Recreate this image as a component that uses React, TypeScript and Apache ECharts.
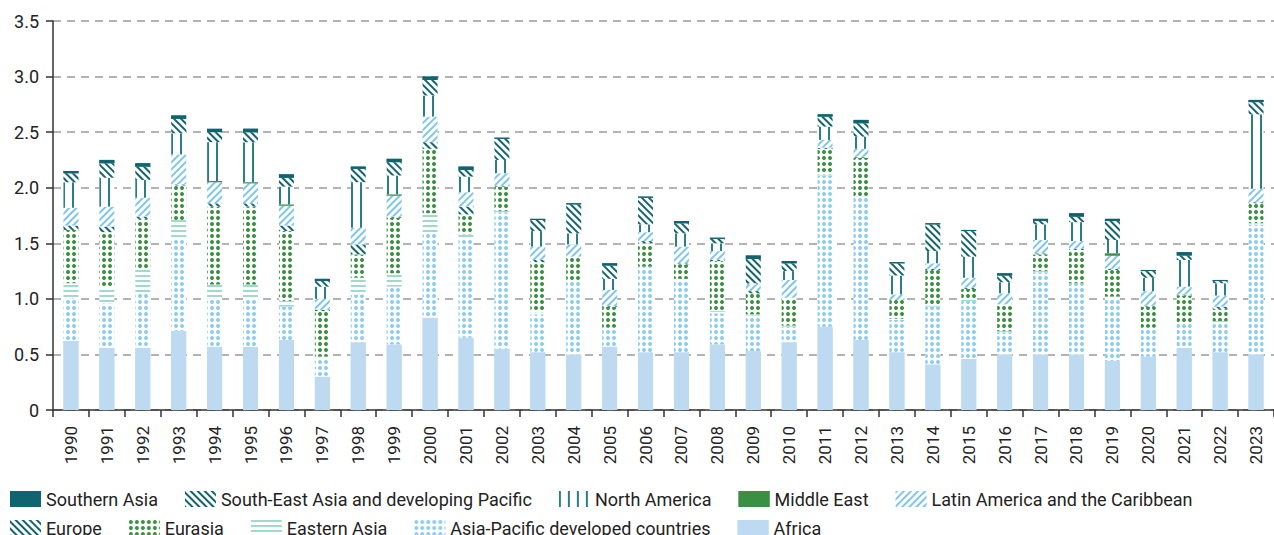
import { useEffect, useRef } from "react";
import * as echarts from "echarts";

const years = [
  "1990", "1991", "1992", "1993", "1994", "1995", "1996", "1997", "1998", "1999",
  "2000", "2001", "2002", "2003", "2004", "2005", "2006", "2007", "2008", "2009",
  "2010", "2011", "2012", "2013", "2014", "2015", "2016", "2017", "2018", "2019",
  "2020", "2021", "2022", "2023",
];

const africa = [0.62, 0.56, 0.56, 0.71, 0.57, 0.57, 0.63, 0.30, 0.61, 0.59, 0.83, 0.65, 0.55, 0.52, 0.50, 0.57, 0.52, 0.52, 0.59, 0.53, 0.61, 0.75, 0.63, 0.52, 0.41, 0.46, 0.50, 0.50, 0.50, 0.44, 0.48, 0.56, 0.52, 0.50];
const asiaPacificDeveloped = [0.38, 0.40, 0.49, 0.83, 0.43, 0.44, 0.30, 0.17, 0.43, 0.52, 0.77, 0.88, 1.23, 0.34, 0.67, 0.16, 0.77, 0.65, 0.28, 0.32, 0.14, 1.36, 1.28, 0.29, 0.52, 0.52, 0.20, 0.74, 0.64, 0.57, 0.25, 0.22, 0.27, 1.17];
const easternAsia = [0.14, 0.14, 0.21, 0.17, 0.13, 0.12, 0.05, 0.01, 0.15, 0.12, 0.17, 0.05, 0.01, 0.02, 0, 0.01, 0, 0.01, 0.02, 0.01, 0.01, 0.01, 0.01, 0.01, 0.01, 0.01, 0.01, 0.01, 0, 0.01, 0.01, 0.01, 0.01, 0.01];
const eurasia = [0.48, 0.50, 0.46, 0.31, 0.70, 0.70, 0.63, 0.41, 0.21, 0.50, 0.58, 0.18, 0.22, 0.45, 0.21, 0.19, 0.21, 0.13, 0.45, 0.19, 0.25, 0.23, 0.35, 0.17, 0.32, 0.10, 0.24, 0.15, 0.30, 0.24, 0.19, 0.24, 0.11, 0.18];
const europe = [0.04, 0.05, 0.02, 0.01, 0.03, 0.03, 0.05, 0.01, 0.09, 0.01, 0.06, 0.07, 0.01, 0.02, 0, 0.01, 0.02, 0.01, 0.01, 0.02, 0, 0.01, 0.01, 0, 0.01, 0.01, 0, 0.01, 0.01, 0.01, 0.01, 0.01, 0.02, 0.01];
const latinAmerica = [0.16, 0.18, 0.17, 0.27, 0.19, 0.18, 0.18, 0.10, 0.15, 0.19, 0.23, 0.13, 0.11, 0.12, 0.11, 0.14, 0.08, 0.15, 0.08, 0.06, 0.16, 0.07, 0.07, 0.05, 0.05, 0.09, 0.10, 0.12, 0.07, 0.12, 0.13, 0.07, 0.10, 0.12];
const middleEast = [0, 0, 0, 0, 0.01, 0.01, 0.01, 0, 0, 0.01, 0, 0, 0, 0, 0, 0, 0, 0, 0, 0, 0, 0, 0, 0, 0, 0, 0, 0, 0, 0.02, 0, 0, 0, 0];
const northAmerica = [0.23, 0.26, 0.16, 0.19, 0.35, 0.36, 0.16, 0.11, 0.41, 0.17, 0.19, 0.14, 0.12, 0.14, 0.10, 0.10, 0.07, 0.12, 0.07, 0.01, 0.08, 0.12, 0.11, 0.17, 0.11, 0.19, 0.10, 0.14, 0.17, 0.12, 0.12, 0.24, 0.11, 0.67];
const southEastAsia = [0.08, 0.13, 0.12, 0.13, 0.09, 0.09, 0.08, 0.05, 0.12, 0.12, 0.14, 0.06, 0.19, 0.10, 0.26, 0.12, 0.24, 0.09, 0.04, 0.22, 0.07, 0.09, 0.12, 0.11, 0.24, 0.23, 0.06, 0.03, 0.05, 0.17, 0.06, 0.04, 0.02, 0.11];
const southernAsia = [0.02, 0.03, 0.03, 0.03, 0.03, 0.03, 0.03, 0.02, 0.02, 0.03, 0.03, 0.03, 0.01, 0.01, 0.01, 0.02, 0.01, 0.02, 0.01, 0.03, 0.02, 0.02, 0.03, 0.01, 0.01, 0.01, 0.02, 0.02, 0.03, 0.02, 0.01, 0.03, 0.01, 0.02];

const yTicks = [0, 0.5, 1.0, 1.5, 2.0, 2.5, 3.0, 3.5];

const legendRow1 = [
  "Southern Asia",
  "South-East Asia and developing Pacific",
  "North America",
  "Middle East",
  "Latin America and the Caribbean",
];
const legendRow2 = [
  "Europe",
  "Eurasia",
  "Eastern Asia",
  "Asia-Pacific developed countries",
  "Africa",
];

const FONT = "Roboto, 'Liberation Sans', sans-serif";

const solid = (c: string) => ({
  symbol: "rect", symbolSize: 1, symbolKeepAspect: false,
  dashArrayX: [1, 0], dashArrayY: [1, 0], rotation: 0,
  color: c, backgroundColor: c,
});
const lines = (c: string, thick: number, gap: number, rot: number) => ({
  symbol: "rect", symbolSize: 1, symbolKeepAspect: false,
  dashArrayX: [1, 0], dashArrayY: [thick, gap], rotation: rot,
  color: c, backgroundColor: "#ffffff",
});
const vlines = (c: string, thick: number, gap: number) => ({
  symbol: "rect", symbolSize: 1, symbolKeepAspect: false,
  dashArrayX: [thick, gap], dashArrayY: [1, 0], rotation: 0,
  color: c, backgroundColor: "#ffffff",
});
const dots = (c: string) => ({
  symbol: "circle", symbolSize: 1, symbolKeepAspect: true,
  dashArrayX: [4, 2], dashArrayY: [4, 2], rotation: 0,
  color: c, backgroundColor: "#ffffff",
});

export default function App() {
  const ref = useRef<HTMLDivElement>(null);
  useEffect(() => {
    if (!ref.current) return;
    const chart = echarts.init(ref.current, undefined, { renderer: "svg" });
    const mk = (name: string, data: number[], fill: string, decal: any) => ({
      name,
      type: "bar",
      stack: "total",
      barWidth: 15,
      data,
      itemStyle: { color: fill, decal },
      emphasis: { disabled: true },
    });
    const series = [
      mk("Africa", africa, "#bddaf1", solid("#bddaf1")),
      mk("Asia-Pacific developed countries", asiaPacificDeveloped, "#ffffff", dots("#8ccdf0")),
      mk("Eastern Asia", easternAsia, "#ffffff", lines("#9fdaca", 2, 3, 0)),
      mk("Eurasia", eurasia, "#ffffff", dots("#3a9041")),
      mk("Europe", europe, "#ffffff", lines("#12646e", 2, 3, Math.PI / 4)),
      mk("Latin America and the Caribbean", latinAmerica, "#ffffff", lines("#7fc7ea", 2, 3, -Math.PI / 4)),
      mk("Middle East", middleEast, "#3a8f42", solid("#3a8f42")),
      mk("North America", northAmerica, "#ffffff", vlines("#2b7d86", 2, 7)),
      mk("South-East Asia and developing Pacific", southEastAsia, "#ffffff", lines("#12646e", 2, 3, Math.PI / 4)),
      mk("Southern Asia", southernAsia, "#0f6470", solid("#0f6470")),
    ];
    const legendBase = {
      left: 10,
      itemWidth: 31,
      itemHeight: 16,
      itemGap: 27,
      icon: "rect",
      selectedMode: false,
      padding: 0,
      textStyle: { fontFamily: FONT, fontSize: 18, color: "#222" },
    };
    chart.setOption({
      animation: false,
      aria: { enabled: true, decal: { show: true } },
      grid: { left: 53, top: 21, width: 1229, bottom: 125, containLabel: false },
      legend: [
        { ...legendBase, data: legendRow1, top: 490 },
        { ...legendBase, data: legendRow2, top: 519 },
      ],
      xAxis: {
        type: "category",
        data: years,
        axisLine: { lineStyle: { color: "#333", width: 1.5 } },
        axisTick: { show: true, alignWithLabel: false, length: 7, lineStyle: { color: "#333", width: 1.5 } },
        axisLabel: { rotate: 90, fontFamily: FONT, fontSize: 17, color: "#222", margin: 16, interval: 0 },
      },
      yAxis: {
        type: "value",
        min: yTicks[0],
        max: yTicks[yTicks.length - 1],
        interval: 0.5,
        axisLine: { show: true, lineStyle: { color: "#333", width: 1.5 } },
        axisTick: { show: true, length: 7, lineStyle: { color: "#333", width: 1.5 } },
        splitLine: { lineStyle: { type: [8, 6], color: "#9a9a9a", width: 1.5 } },
        axisLabel: {
          fontFamily: FONT,
          fontSize: 18,
          color: "#222",
          margin: 14,
          formatter: (v: number) => (v === 0 ? "0" : v.toFixed(1)),
        },
      },
      series,
    });
    return () => chart.dispose();
  }, []);
  return (
    <div
      ref={ref}
      style={{ position: "fixed", left: 0, top: 0, width: 1274, height: 535, background: "#fff" }}
    />
  );
}
